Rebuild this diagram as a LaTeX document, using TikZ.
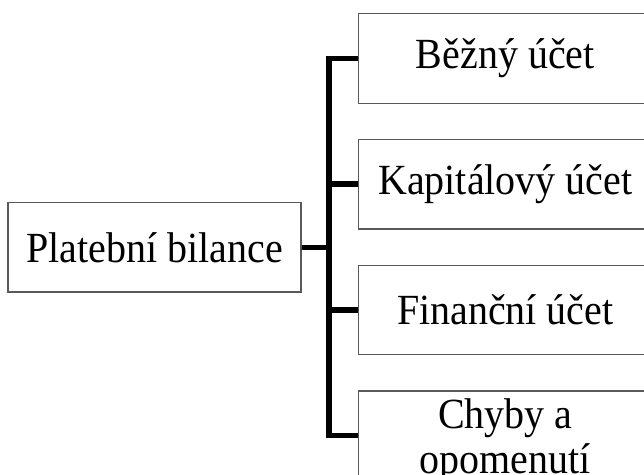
\documentclass[tikz,border=0pt]{standalone}
\usepackage{fontspec}
\setmainfont[FakeStretch=0.93]{Liberation Serif}
\tikzset{
  ucet/.style={draw=black!65, line width=1.3pt, minimum width=293pt,
    minimum height=89.5pt, inner sep=0pt, align=center,
    font=\fontsize{43}{45}\selectfont},
  spoj/.style={black, line width=5.5pt}
}
\begin{document}
\begin{tikzpicture}[x=1pt,y=-1pt]
    \path[use as bounding box, clip] (0,0) rectangle (644,474);

    \node[ucet] (pb) at (154.5,247.3) {Platební bilance};
    \node[ucet] (bu) at (505.3,58.5) {Běžný účet};
    \node[ucet] (ku) at (505.3,184.2) {Kapitálový účet};
    \node[ucet] (fu) at (505.3,309.9) {Finanční účet};
    \node[ucet, text depth=0pt] (ch) at (505.3,435.6) {Chyby a\\opomenutí};

    \coordinate (kmen) at (329,247.3);

    \draw[spoj] (pb.east) -- (kmen);
    \draw[spoj] (bu.west) -- (kmen |- bu) -- (kmen |- ch) -- (ch.west);
    \draw[spoj] (kmen |- ku) -- (ku.west);
    \draw[spoj] (kmen |- fu) -- (fu.west);
\end{tikzpicture}
\end{document}
